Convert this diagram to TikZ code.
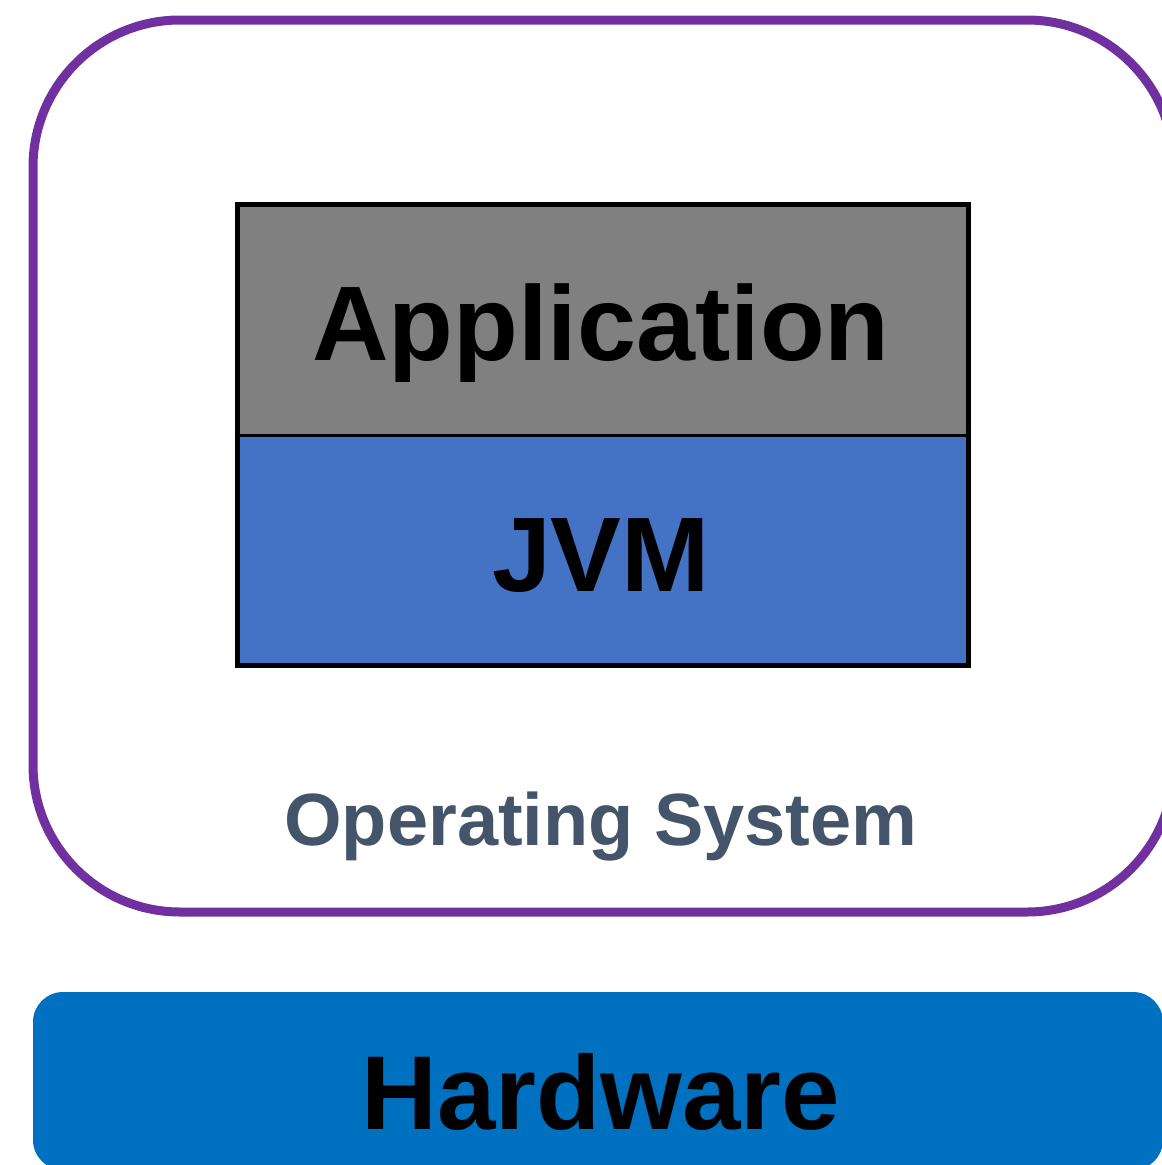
\documentclass[tikz,border=0pt]{standalone}
\usepackage{fontspec}
\setmainfont{Liberation Sans}
\definecolor{ospurple}{HTML}{7030A0}
\definecolor{ostext}{HTML}{44546A}
\definecolor{appgray}{HTML}{808080}
\definecolor{jvmblue}{HTML}{4472C4}
\definecolor{hwblue}{HTML}{0070C0}
\tikzset{
  plain/.style={inner sep=0pt, outer sep=0pt},
  osbox/.style={plain, draw=ospurple, line width=9pt, rounded corners=147pt, minimum width=1141pt, minimum height=892pt},
  layerbox/.style={plain, minimum width=731pt},
  hwbox/.style={plain, fill=hwblue, rounded corners=30pt, minimum width=1130pt, minimum height=178pt},
  bigtext/.style={plain, anchor=base, font=\bfseries\fontsize{106pt}{110pt}\selectfont},
  ostxt/.style={plain, anchor=base, text=ostext, font=\bfseries\fontsize{74pt}{80pt}\selectfont},
}
\begin{document}
\begin{tikzpicture}[x=1pt,y=-1pt]
\useasboundingbox (0,0) rectangle (1162,1165);
\clip (0,0) rectangle (1162,1165);
\node[osbox] (os) at (603.5,466) {};
\node[layerbox, fill=appgray, minimum height=231pt] (app) at (602.5,319.5) {};
\node[layerbox, fill=jvmblue, minimum height=230pt] (jvm) at (602.5,550) {};
\draw[line width=5pt] (app.north west) rectangle (jvm.south east);
\draw[line width=3pt] (app.south west) -- (app.south east);
\node[bigtext] (apptxt) at (601,360) {Application};
\node[bigtext] (jvmtxt) at (601,591) {JVM};
\node[ostxt] (ostxt) at (601,845) {Operating System};
\node[hwbox] (hw) at (598,1081) {};
\node[bigtext, font=\bfseries\fontsize{105pt}{110pt}\selectfont] (hwtxt) at (600.5,1129) {Hardware};
\end{tikzpicture}
\end{document}
